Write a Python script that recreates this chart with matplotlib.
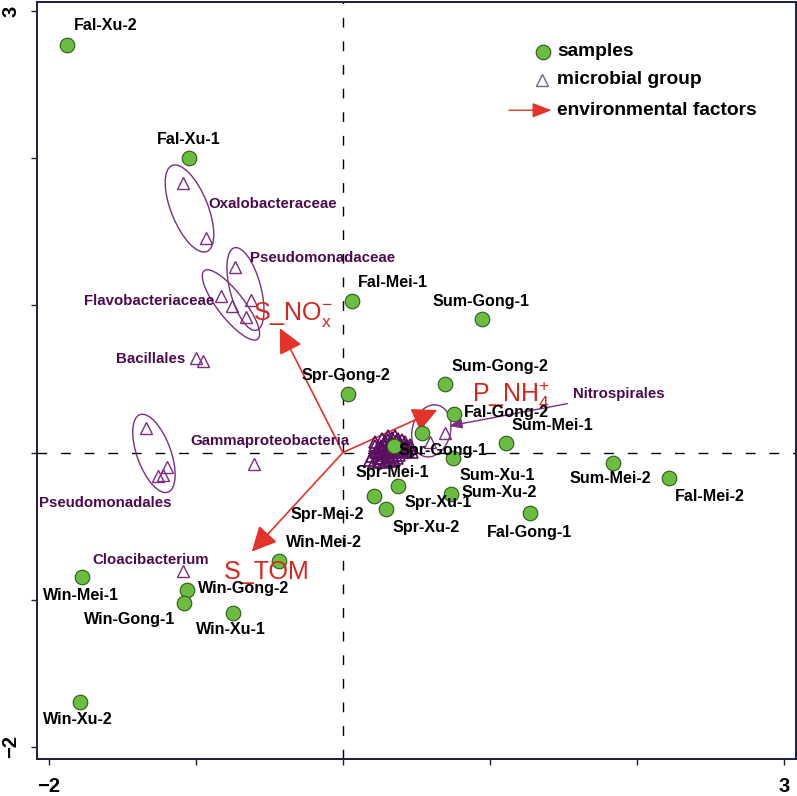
import matplotlib
matplotlib.use("Agg")
import matplotlib.pyplot as plt
from matplotlib.patches import Ellipse

plt.rcParams['font.family'] = ['Liberation Sans', 'DejaVu Sans']
plt.rcParams['mathtext.fontset'] = 'custom'
plt.rcParams['mathtext.rm'] = 'Liberation Sans'
plt.rcParams['mathtext.it'] = 'Liberation Sans:italic'
plt.rcParams['mathtext.bf'] = 'Liberation Sans:bold'

# ---------------- data ----------------
sample_names = ['Fal-Xu-2', 'Fal-Xu-1', 'Fal-Mei-1', 'Sum-Gong-1', 'Spr-Gong-2', 'Sum-Gong-2',
                'Fal-Gong-2', 'Sum-Mei-1', 'Spr-Gong-1', 'Spr-Mei-1', 'Sum-Xu-1', 'Sum-Xu-2',
                'Spr-Xu-1', 'Spr-Mei-2', 'Spr-Xu-2', 'Sum-Mei-2', 'Fal-Mei-2', 'Fal-Gong-1',
                'Win-Mei-2', 'Win-Mei-1', 'Win-Gong-2', 'Win-Gong-1', 'Win-Xu-1', 'Win-Xu-2']
sample_x = [-1.878, -1.048, 0.061, 0.950, 0.032, 0.696,
            0.755, 1.107, 0.347, 0.537, 0.748, 0.735,
            0.374, 0.211, 0.293, 1.837, 2.218, 1.272,
            -0.435, -1.778, -1.059, -1.082, -0.750, -1.789]
sample_y = [2.769, 2.001, 1.030, 0.906, 0.400, 0.464,
            0.262, 0.065, 0.045, 0.133, -0.037, -0.281,
            -0.227, -0.295, -0.383, -0.071, -0.173, -0.411,
            -0.737, -0.847, -0.933, -1.024, -1.088, -1.692]

# labelled microbial groups (triangles)
group_names = ['Oxalobacteraceae', 'Oxalobacteraceae', 'Pseudomonadaceae', 'Pseudomonadaceae',
               'Flavobacteriaceae', 'Flavobacteriaceae', 'Flavobacteriaceae',
               'Bacillales', 'Bacillales',
               'Pseudomonadales', 'Pseudomonadales', 'Pseudomonadales', 'Pseudomonadales',
               'Gammaproteobacteria', 'Cloacibacterium', 'Nitrospirales', 'Nitrospirales']
group_x = [-1.088, -0.934, -0.731, -0.626,
           -0.830, -0.753, -0.660,
           -1.002, -0.950,
           -1.342, -1.199, -1.227, -1.256,
           -0.603, -1.086, 0.694, 0.592]
group_y = [1.834, 1.456, 1.263, 1.037,
           1.066, 0.996, 0.919,
           0.641, 0.624,
           0.169, -0.100, -0.152, -0.159,
           -0.079, -0.804, 0.131, 0.074]

# unlabelled microbial groups near the origin
cluster_x = [0.197, 0.224, 0.252, 0.279, 0.306, 0.333, 0.361, 0.388, 0.415, 0.442, 0.469,
             0.238, 0.272, 0.299, 0.327, 0.354, 0.381, 0.408, 0.293, 0.320, 0.347, 0.374,
             0.259, 0.218, 0.184, 0.422, 0.456, 0.313, 0.286, 0.354, 0.218,
             0.210, 0.245, 0.265, 0.290, 0.318, 0.340, 0.366, 0.395, 0.430, 0.460,
             0.230, 0.262, 0.300, 0.335, 0.372, 0.405, 0.268, 0.305, 0.250, 0.280]
cluster_y = [-0.023, 0.004, 0.031, 0.058, 0.086, 0.099, 0.079, 0.058, 0.038, 0.018, 0.004,
             -0.037, -0.016, 0.011, 0.031, 0.004, -0.016, 0.004, -0.050, -0.030, -0.050, 0.031,
             0.045, 0.045, -0.050, 0.072, 0.052, 0.052, 0.079, 0.113, 0.074,
             -0.065, -0.060, -0.040, -0.065, -0.055, -0.025, -0.035, 0.020, 0.045, 0.030,
             0.020, 0.010, 0.040, 0.065, 0.090, 0.085, 0.090, 0.110, -0.005, 0.000]

# environmental factor biplot arrows
env_names = [r'S_NO$_\mathrm{x}^\mathrm{-}$', r'P_NH$_\mathrm{4}^\mathrm{+}$', 'S_TOM']
env_x = [-0.429, 0.642, -0.620]
env_y = [0.845, 0.289, -0.673]

# ---------------- layout / style ----------------
sample_offsets = [(7, 19), (-32, 19), (6, 18), (-50, 18), (-46, 18), (6, 18),
                  (10, 1), (6, 17), (5, -5), (-66, -40), (7, -18), (11, 1),
                  (7, -17), (-83, -19), (7, -19), (-43, -16), (6, -18), (-43, -19),
                  (7, 19), (-39, -18), (11, 1), (-100, -16), (-37, -17), (-37, -18)]

group_label_pos = {'Oxalobacteraceae': (-0.918, 1.689),
                   'Pseudomonadaceae': (-0.633, 1.322),
                   'Flavobacteriaceae': (-1.762, 1.030),
                   'Bacillales': (-1.544, 0.636),
                   'Pseudomonadales': (-2.068, -0.342),
                   'Gammaproteobacteria': (-1.041, 0.079),
                   'Cloacibacterium': (-1.707, -0.730),
                   'Nitrospirales': (1.565, 0.398)}
# ellipses: center, major, minor, angle
ellipses = [((-1.044, 1.658), 0.63, 0.25, 112),
            ((-0.663, 1.111), 0.58, 0.21, 105),
            ((-0.762, 1.003), 0.59, 0.18, 128),
            ((-1.286, -0.006), 0.56, 0.23, 110),
            ((0.602, 0.147), 0.36, 0.26, 75)]
env_label_pos = [(-0.612, 0.935), (0.878, 0.391), (-0.810, -0.811)]

GREEN = '#6bbd3f'
GREEN_EDGE = '#2c5a18'
PURPLE = '#7d2c80'
PURPLE_DARK = '#5a0f5f'
PURPLE_TEXT = '#4b0a4e'
RED = '#e3332a'
RED_TEXT = '#d6261e'

fig = plt.figure(figsize=(7.97, 7.96), dpi=100)
ax = fig.add_axes([0.0464, 0.0465, 0.952, 0.951])
ax.set_xlim(-2.082, 3.082)
ax.set_ylim(-2.082, 3.061)

ax.axhline(0, color='black', lw=1.0, dashes=(7, 10), zorder=1)
ax.axvline(0, color='black', lw=1.0, dashes=(7, 10), zorder=1)

# ellipses
for (c, w, h, ang) in ellipses:
    ax.add_patch(Ellipse(c, w, h, angle=ang, fill=False, ec=PURPLE, lw=1.0, zorder=2))

# env arrows
for ex, ey in zip(env_x, env_y):
    ax.annotate('', xy=(ex, ey), xytext=(0, 0),
                arrowprops=dict(arrowstyle='-|>,head_length=0.85,head_width=0.42',
                                color=RED, lw=1.2, mutation_scale=18,
                                shrinkA=0, shrinkB=0), zorder=3)
for name, (lx, ly) in zip(env_names, env_label_pos):
    ax.text(lx, ly, name, color=RED_TEXT, fontsize=18, ha='left', va='center', zorder=6)

# microbial groups
ax.plot(cluster_x, cluster_y, linestyle='none', marker='^', markersize=9,
        mfc='none', mec=PURPLE_DARK, mew=1.2, zorder=3)
ax.plot(group_x, group_y, linestyle='none', marker='^', markersize=8.5,
        mfc='none', mec=PURPLE, mew=1.0, zorder=3)
for name, (lx, ly) in group_label_pos.items():
    if name == 'Nitrospirales':
        continue
    ax.text(lx, ly, name, color=PURPLE_TEXT, fontsize=10.8, fontweight='bold',
            ha='left', va='center', zorder=6)
# Nitrospirales label with pointer
ax.annotate('Nitrospirales', xy=(0.721, 0.180), xytext=group_label_pos['Nitrospirales'],
            color=PURPLE_TEXT, fontsize=10.8, fontweight='bold', ha='left', va='center',
            arrowprops=dict(arrowstyle='-|>,head_length=0.8,head_width=0.3', color=PURPLE,
                            lw=1.0, mutation_scale=10, shrinkA=2, shrinkB=0), zorder=6)

# samples
ax.plot(sample_x, sample_y, linestyle='none', marker='o', markersize=10.5,
        mfc=GREEN, mec=GREEN_EDGE, mew=0.8, zorder=4)
for name, sx, sy, (dx, dy) in zip(sample_names, sample_x, sample_y, sample_offsets):
    ax.annotate(name, xy=(sx, sy), xytext=(dx, dy), textcoords='offset pixels',
                fontsize=11.6, fontweight='bold', color='black', ha='left', va='center', zorder=6)

# legend (manual)
ax.plot([0.667], [0.934], transform=ax.transAxes, marker='o', markersize=10.5,
        mfc=GREEN, mec=GREEN_EDGE, mew=0.8, linestyle='none', clip_on=False)
ax.plot([0.665], [0.897], transform=ax.transAxes, marker='^', markersize=8,
        mfc='none', mec='#6a6a8a', mew=1.0, linestyle='none', clip_on=False)
ax.annotate('', xy=(0.678, 0.857), xytext=(0.622, 0.857), xycoords='axes fraction',
            arrowprops=dict(arrowstyle='-|>,head_length=0.9,head_width=0.35', color=RED,
                            lw=1.0, mutation_scale=13, shrinkA=0, shrinkB=0))
for fy, t in zip([0.934, 0.897, 0.857], ['samples', 'microbial group', 'environmental factors']):
    ax.text(0.686, fy, t, transform=ax.transAxes, fontsize=13.8, fontweight='bold',
            ha='left', va='center')

# axes styling
for sp in ax.spines.values():
    sp.set_color('#1c1c40')
    sp.set_linewidth(1.4)
ax.set_xticks([-2, -1, 0, 1, 2, 3])
ax.set_xticklabels(['\u22122', '', '', '', '', '3'])
ax.set_yticks([-2, -1, 0, 1, 2, 3])
ax.set_yticklabels(['\u22122', '', '', '', '', '3'], rotation=90, va='center')
ax.tick_params(axis='both', direction='out', length=4, width=1.0, color='#1c1c40',
               labelsize=14.5)
ax.tick_params(axis='x', pad=9)
ax.tick_params(axis='y', pad=8)
for lab in ax.get_xticklabels() + ax.get_yticklabels():
    lab.set_fontweight('bold')

fig.savefig('out.png', dpi=100)
